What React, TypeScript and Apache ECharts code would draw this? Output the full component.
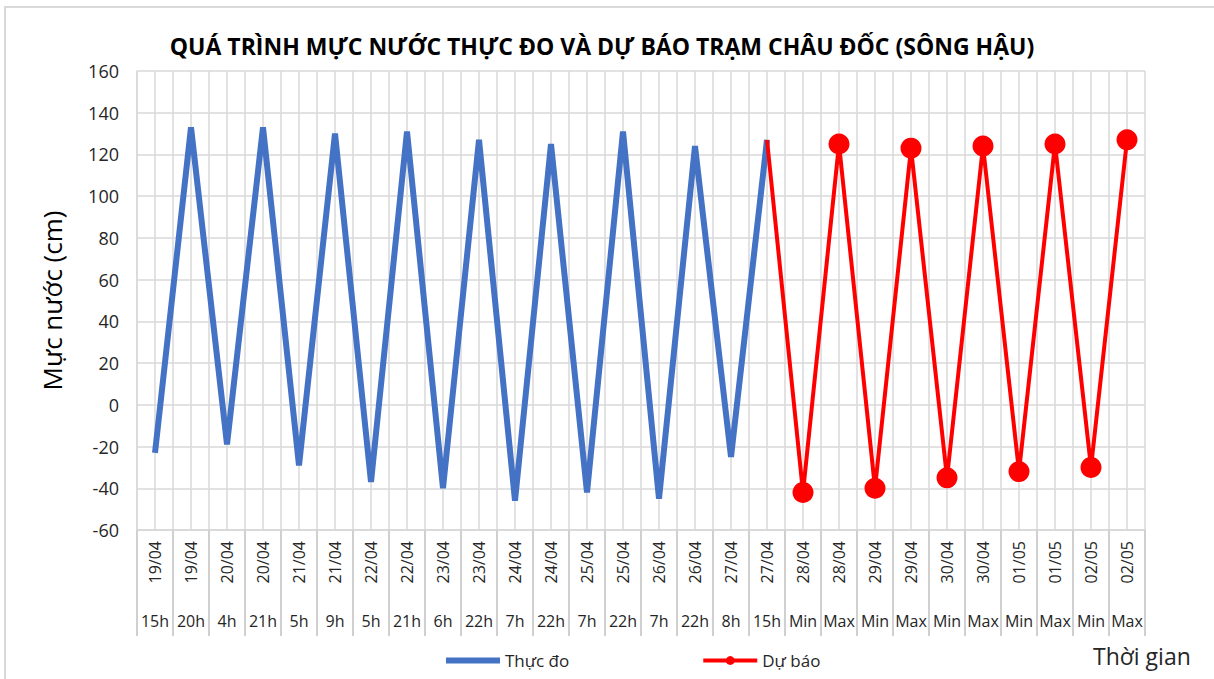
import React, { useEffect, useRef } from "react";
import * as echarts from "echarts";

const dates = ["19/04","19/04","20/04","20/04","21/04","21/04","22/04","22/04","23/04","23/04","24/04","24/04","25/04","25/04","26/04","26/04","27/04","27/04","28/04","28/04","29/04","29/04","30/04","30/04","01/05","01/05","02/05","02/05"];
const hours = ["15h","20h","4h","21h","5h","9h","5h","21h","6h","22h","7h","22h","7h","22h","7h","22h","8h","15h","Min","Max","Min","Max","Min","Max","Min","Max","Min","Max"];
const observed = [-23,133,-19,133,-29,130,-37,131,-40,127,-46,125,-42,131,-45,124,-25,127];
const forecast = [127,-42,125,-40,123,-35,124,-32,125,-30,127];
const yTicks = { min: -60, max: 160, interval: 20 };

const FONT = "'Open Sans', 'Noto Sans', sans-serif";
const GRID = "#d9d9d9";

export default function App() {
  const ref = useRef<HTMLDivElement>(null);
  useEffect(() => {
    if (!ref.current) return;
    const chart = echarts.init(ref.current, undefined, { renderer: "svg" });
    const n = dates.length;
    const obsData: (number | null)[] = dates.map((_, i) => (i < observed.length ? observed[i] : null));
    const fStart = n - forecast.length;
    const fcData: any[] = dates.map((_, i) => {
      if (i < fStart) return null;
      const v = forecast[i - fStart];
      return i === fStart ? { value: v, symbol: "none" } : v;
    });
    const halfCats = Array.from({ length: n * 2 }, (_, i) => String(i));
    chart.setOption({
      animation: false,
      textStyle: { fontFamily: FONT },
      title: {
        text: "QUÁ TRÌNH MỰC NƯỚC THỰC ĐO VÀ DỰ BÁO TRẠM CHÂU ĐỐC (SÔNG HẬU)",
        left: 597,
        textAlign: "center",
        top: 29,
        textStyle: { fontFamily: FONT, fontSize: 23, fontWeight: "bold", color: "#000" },
      },
      graphic: [
        { type: "rect", shape: { x: 5, y: 7, width: 1230, height: 700 }, style: { fill: "none", stroke: "#d9d9d9", lineWidth: 2 }, silent: true },
        { type: "text", left: 1093, top: 644, style: { text: "Thời gian", fontFamily: FONT, fontSize: 23, fill: "#262626" } },
      ],
      legend: {
        left: 438,
        top: 647,
        itemGap: 132,
        itemWidth: 54,
        itemHeight: 11,
        textStyle: { fontFamily: FONT, fontSize: 17, color: "#262626" },
        data: [
          { name: "Thực đo", itemStyle: { opacity: 0 }, lineStyle: { width: 6, color: "#4472C4" } },
          { name: "Dự báo", lineStyle: { width: 4, color: "#FF0000" } },
        ],
      },
      grid: { left: 137, right: 69, top: 71, bottom: 149, containLabel: false },
      xAxis: [
        {
          type: "category",
          data: dates,
          boundaryGap: true,
          axisLine: { show: true, onZero: false, lineStyle: { color: GRID, width: 2 } },
          axisTick: { show: true, inside: false, length: 106, interval: 0, lineStyle: { color: "#d0d0d0", width: 2 } },
          axisLabel: { interval: 0, rotate: 90, fontSize: 16, color: "#262626", margin: 11, fontFamily: FONT },
          splitLine: { show: false },
        },
        {
          type: "category",
          data: hours,
          position: "bottom",
          boundaryGap: true,
          axisLine: { show: false, onZero: false },
          axisTick: { show: false },
          axisLabel: { interval: 0, fontSize: 16, color: "#262626", margin: 83, fontFamily: FONT },
          splitLine: { show: false },
        },
        {
          type: "category",
          data: halfCats,
          position: "bottom",
          boundaryGap: true,
          axisLine: { show: false, onZero: false },
          axisTick: { show: false },
          axisLabel: { show: false },
          splitLine: { show: true, interval: 0, lineStyle: { color: GRID, width: 1.5 } },
        },
      ],
      yAxis: {
        type: "value",
        min: yTicks.min,
        max: yTicks.max,
        interval: yTicks.interval,
        name: "Mực nước (cm)",
        nameLocation: "middle",
        nameGap: 72,
        nameRotate: 90,
        nameTextStyle: { fontFamily: FONT, fontSize: 26, color: "#000" },
        axisLine: { show: true, lineStyle: { color: GRID, width: 1.5 } },
        axisTick: { show: false },
        axisLabel: { fontSize: 18, color: "#262626", margin: 18, fontFamily: FONT },
        splitLine: { show: true, lineStyle: { color: GRID, width: 1.5 } },
      },
      series: [
        {
          name: "Thực đo",
          type: "line",
          data: obsData,
          xAxisIndex: 0,
          symbol: "none",
          lineStyle: { color: "#4472C4", width: 6 },
          itemStyle: { color: "#4472C4" },
          connectNulls: false,
          z: 2,
        },
        {
          name: "Dự báo",
          type: "line",
          data: fcData,
          xAxisIndex: 0,
          symbol: "circle",
          symbolSize: 21,
          lineStyle: { color: "#FF0000", width: 4 },
          itemStyle: { color: "#FF0000" },
          z: 3,
        },
      ],
    });
    return () => chart.dispose();
  }, []);
  return <div ref={ref} style={{ position: "absolute", left: 0, top: 0, width: 1214, height: 679 }} />;
}
